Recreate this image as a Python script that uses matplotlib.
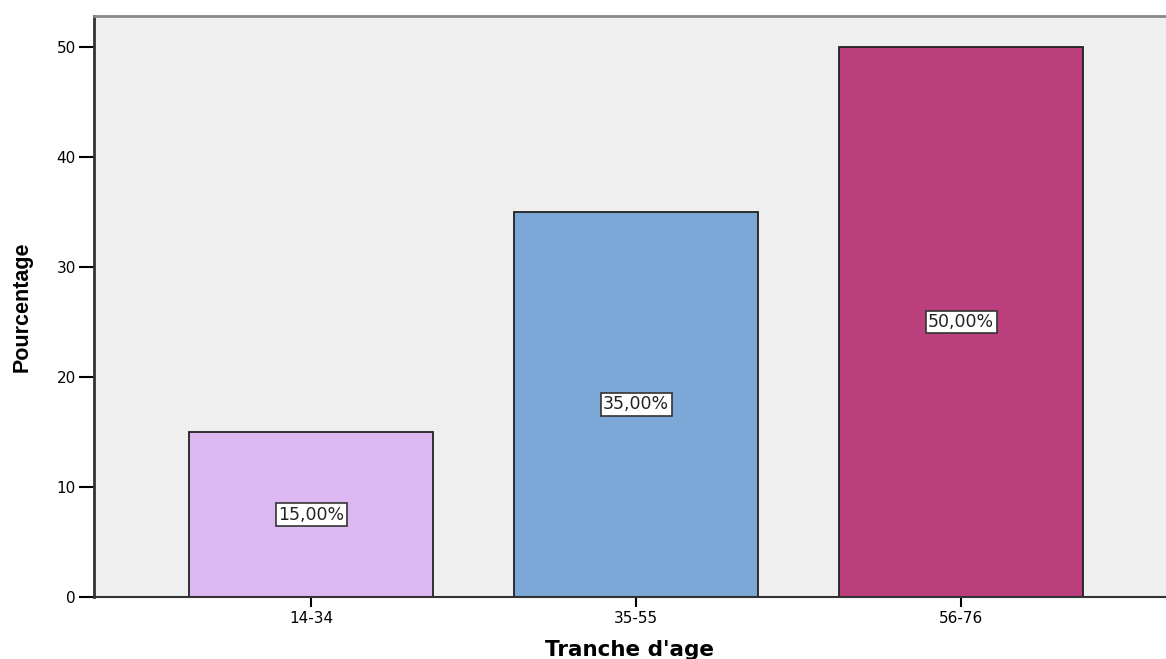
import matplotlib
matplotlib.use("Agg")
import matplotlib.pyplot as plt
from matplotlib import font_manager

# Répartition par tranche d'âge
tranches = ["14-34", "35-55", "56-76"]
pourcentages = [15.0, 35.0, 50.0]
couleurs = ["#DDB8F0", "#7BA8D6", "#BA3F7C"]
yticks = [0, 10, 20, 30, 40, 50]

# police étroite pour le titre de l'axe Y si disponible
noms = {f.name for f in font_manager.fontManager.ttflist}
police_y = "Liberation Sans Narrow" if "Liberation Sans Narrow" in noms else "Liberation Sans"
taille_y = 18.5 if police_y == "Liberation Sans Narrow" else 15.5

fig = plt.figure(figsize=(11.66, 6.59), dpi=100)
ax = fig.add_axes([0.0806, 0.094, 0.9194, 0.8817])
ax.set_facecolor("#EFEFEF")

x = list(range(len(tranches)))
ax.bar(x, pourcentages, width=0.75, color=couleurs, edgecolor="#222222", linewidth=1.3, zorder=2)

# étiquettes de valeur au milieu de chaque barre
for xi, val in zip(x, pourcentages):
    ax.text(xi, val / 2, f"{val:.2f}%".replace(".", ","), ha="center", va="center",
            fontsize=12.5, color="#222222", zorder=3,
            bbox=dict(boxstyle="square,pad=0.14", facecolor="white", edgecolor="#333333", linewidth=1.2))

ax.set_xlim(-0.668, 2.63)
ax.set_ylim(0, 52.8)
ax.set_xticks(x)
ax.set_xticklabels(tranches, fontsize=11)
ax.set_yticks(yticks)
ax.tick_params(axis="y", labelsize=11, length=11, width=1.5, pad=2)
ax.tick_params(axis="x", length=7, width=1.5, pad=3)

ax.spines["right"].set_visible(False)
ax.spines["left"].set_linewidth(2)
ax.spines["left"].set_color("#333333")
ax.spines["bottom"].set_linewidth(1.5)
ax.spines["bottom"].set_color("#333333")
ax.spines["top"].set_linewidth(2)
ax.spines["top"].set_color("#888888")

ax.set_ylabel("Pourcentage", fontsize=taille_y, fontweight="bold", family=police_y, labelpad=17)
ax.set_xlabel("Tranche d'age", fontsize=15.5, fontweight="bold", labelpad=10)

fig.savefig("out.png", dpi=100)
